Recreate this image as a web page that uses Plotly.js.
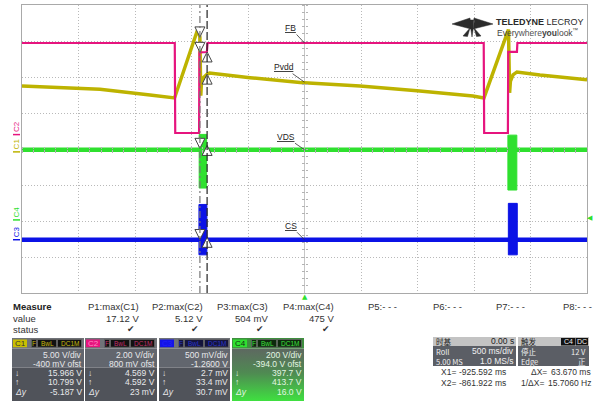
<!DOCTYPE html>
<html><head><meta charset="utf-8">
<script src="https://cdn.plot.ly/plotly-3.0.1.min.js"></script>
<style>html,body{margin:0;padding:0;background:#fff;overflow:hidden}#chart{width:594px;height:401px}</style>
</head><body><div id="chart"></div>
<script>
// ---------------- data ----------------
const channelNames = ['C1', 'C2', 'C3', 'C4'];
const traceLabels = ['Pvdd', 'FB', 'CS', 'VDS'];
const labelVolts = [9.68, 5.09, 0.0, 390];
const voltsPerDiv = [5, 2, 0.5, 200];
const offsetVolts = [-0.4, 0.8, -1.26, -394.0];
const timePerDiv = 0.5; // seconds
const cursorTimes = [-0.925592, -0.861922];
const cursorX1Vals = [15.966, 4.569, 0.0027, 397.7];
const cursorX2Vals = [10.799, 4.592, 0.0334, 413.7];
const triggerLevel = 12; // V on C4

// C1 Pvdd (s, V)
const c1Time  = [-2.5, -1.81, -1.367, -1.150, -0.943, -0.926, -0.918, -0.912, -0.895, -0.862, -0.84, -0.482, -0.04, 0.491, 0.996, 1.49, 1.588, 1.805, 1.815, 1.822, 1.845, 1.88, 2.084, 2.5];
const c1Volts = [9.15, 8.69, 7.9, 7.49, 17.1, 15.97, 7.8, 9.6, 10.3, 10.8, 10.95, 10.3, 9.64, 9.15, 8.5, 7.76, 7.49, 17.0, 8.2, 9.8, 10.7, 11.1, 10.68, 10.0];
// C2 FB
const c2Time  = [-2.5, -1.148, -1.144, -0.933, -0.930, -0.864, -0.858, 1.586, 1.590, 1.800, 1.803, 1.880, 1.884, 2.5];
const c2Volts = [5.09, 5.09, 0.09, 0.09, 4.57, 4.59, 5.09, 5.09, 0.09, 0.09, 4.60, 4.60, 5.09, 5.09];
// C3 CS
const c3Time  = [-2.5, 2.5];
const c3Volts = [0.0, 0.0];
const c3BurstStart = [-0.934, 1.804];
const c3BurstEnd   = [-0.864, 1.883];
const c3BurstMax   = [0.49, 0.505];
const c3BurstMin   = [-0.21, -0.21];
// C4 VDS
const c4Time  = [-2.5, 2.5];
const c4Volts = [390, 390];
const c4BurstStart = [-0.932, 1.800];
const c4BurstEnd   = [-0.866, 1.879];
const c4BurstMax   = [475, 471];
const c4BurstMin   = [177, 166];

// panel texts
const measureHeaders = ['P1:max(C1)', 'P2:max(C2)', 'P3:max(C3)', 'P4:max(C4)', 'P5:- - -', 'P6:- - -', 'P7:- - -', 'P8:- - -'];
const measureValues = ['17.12 V', '5.12 V', '504 mV', '475 V', '', '', '', ''];
const measureOk = [true, true, true, true, false, false, false, false];
const vdivText = ['5.00 V/div', '2.00 V/div', '500 mV/div', '200 V/div'];
const ofstText = ['-400 mV ofst', '800 mV ofst', '-1.2600 V', '-394.0 V ofst'];
const x1Text = ['15.966 V', '4.569 V', '2.7 mV', '397.7 V'];
const x2Text = ['10.799 V', '4.592 V', '33.4 mV', '413.7 V'];
const dyText = ['-5.187 V', '23 mV', '30.7 mV', '16.0 V'];
const badgeText = ['F', 'BwL', 'DC1M'];
const timebaseRows = [['时基', '0.00 s'], ['Roll', '500 ms/div'], ['5.00 MS', '1.0 MS/s']];
const triggerRows = [['触发', ''], ['停止', '12 V'], ['Edge', '正']];
const cursorRows = [['X1=', '-925.592 ms', 'ΔX=', '63.670 ms'], ['X2=', '-861.922 ms', '1/ΔX=', '15.7060 Hz']];

// ---------------- layout geometry ----------------
const W = 594, H = 401;
const gridLeft = 22, gridRight = 587, gridTop = 5, gridBottom = 293;
const xDom = [gridLeft / W, gridRight / W];
const yDom = [1 - gridBottom / H, 1 - gridTop / H];
const xMid = (xDom[0] + xDom[1]) / 2, yMid = (yDom[0] + yDom[1]) / 2;
const colors = ['#bdb300', '#e6147e', '#0b12e6', '#2fe02f'];
const dimColors = ['#c8bc10', '#c0306a', '#2a34c8', '#40e040'];
const FONT = 'Liberation Sans, Arial, sans-serif';
const CJK = 'Noto Sans CJK SC, Liberation Sans, sans-serif';
const chanAxis = ['y2', 'y3', 'y4', 'y5'];

function burstPoly(s, e, mx, mn) {
  const xs = [], ys = [];
  for (let i = 0; i < s.length; i++) {
    xs.push(s[i], e[i], e[i], s[i], s[i], null);
    ys.push(mx[i], mx[i], mn[i], mn[i], mx[i], null);
  }
  return {xs, ys};
}
const anchorTrace = (xa, ya) => ({x: [0], y: [0], xaxis: xa, yaxis: ya, mode: 'markers',
  marker: {size: 1, opacity: 0}, hoverinfo: 'skip'});

const traces = [];
// invisible anchors so that grid / tick axes exist as subplots
traces.push(anchorTrace('x', 'y'), anchorTrace('x2', 'y'), anchorTrace('x3', 'y'), anchorTrace('x', 'y6'), anchorTrace('x', 'y7'));
// gradient body of C4 box (panel subplot)
traces.push({x: [232, 304, 304, 232, 232], y: [348.5, 348.5, 401, 401, 348.5], xaxis: 'x4', yaxis: 'y8',
  mode: 'lines', line: {width: 0}, fill: 'toself', hoverinfo: 'skip',
  fillgradient: {type: 'vertical', start: 350, stop: 401,
    colorscale: [[0, '#5d6a60'], [0.45, '#4f8a52'], [1, '#3fe040']]}});
// logo icon (panel subplot)
const logoX = [452, 470, 471, 452, null, 493, 474, 473, 493, null, 469.5, 474.5, 472, 469.5, null, 470, 463, 467.5, 470, null, 474, 481, 476.5, 474];
const logoY = [24, 18, 29, 24, null, 24, 18, 29, 24, null, 20, 20, 37, 20, null, 28, 36, 36.5, 28, null, 28, 36, 36.5, 28];
traces.push({x: logoX, y: logoY, xaxis: 'x4', yaxis: 'y8', mode: 'lines', fill: 'toself',
  fillcolor: '#2b2b2b', line: {width: 0.5, color: '#2b2b2b'}, hoverinfo: 'skip'});

// C1
traces.push({x: c1Time, y: c1Volts, xaxis: 'x', yaxis: 'y2', mode: 'lines', line: {color: colors[0], width: 3.5}, hoverinfo: 'skip'});
// C2
traces.push({x: c2Time, y: c2Volts, xaxis: 'x', yaxis: 'y3', mode: 'lines', line: {color: colors[1], width: 2.2}, hoverinfo: 'skip'});
// C4
traces.push({x: c4Time, y: c4Volts, xaxis: 'x', yaxis: 'y5', mode: 'lines', line: {color: colors[3], width: 4.5}, hoverinfo: 'skip'});
const b4 = burstPoly(c4BurstStart, c4BurstEnd, c4BurstMax, c4BurstMin);
traces.push({x: b4.xs, y: b4.ys, xaxis: 'x', yaxis: 'y5', mode: 'lines', fill: 'toself', fillcolor: colors[3], line: {color: colors[3], width: 1}, hoverinfo: 'skip'});
// C3
traces.push({x: c3Time, y: c3Volts, xaxis: 'x', yaxis: 'y4', mode: 'lines', line: {color: colors[2], width: 4.5}, hoverinfo: 'skip'});
const b3 = burstPoly(c3BurstStart, c3BurstEnd, c3BurstMax, c3BurstMin);
traces.push({x: b3.xs, y: b3.ys, xaxis: 'x', yaxis: 'y4', mode: 'lines', fill: 'toself', fillcolor: colors[2], line: {color: colors[2], width: 1}, hoverinfo: 'skip'});
// cursor arrows
for (let i = 0; i < 4; i++) {
  traces.push({x: cursorTimes, y: [cursorX1Vals[i], cursorX2Vals[i]], xaxis: 'x', yaxis: chanAxis[i], mode: 'markers',
    marker: {symbol: ['arrow-down', 'arrow-up'], size: 10, color: '#ffffff', line: {color: '#444', width: 1}}, hoverinfo: 'skip', cliponaxis: false});
}

const shapes = [];
const annotations = [];
function rect(x0, y0, x1, y1, fill, lc) {
  shapes.push({type: 'rect', xref: 'x4', yref: 'y8', x0, y0, x1, y1, fillcolor: fill, layer: 'above',
    line: {width: lc ? 0.8 : 0, color: lc || fill}});
}
function txt(s, x, y, o = {}) {
  annotations.push({xref: 'x4', yref: 'y8', x, y, text: s, showarrow: false, xanchor: o.anchor || 'left', yanchor: 'middle',
    borderpad: 0, font: {family: o.family || FONT, size: o.size || 9, color: o.color || '#333'}});
}

// cursors
shapes.push({type: 'line', xref: 'x', yref: 'y domain', x0: cursorTimes[0], x1: cursorTimes[0], y0: 0, y1: 1, layer: 'above',
  line: {color: '#777', width: 1.2, dash: '7px,3px,2px,3px'}});
shapes.push({type: 'line', xref: 'x', yref: 'y domain', x0: cursorTimes[1], x1: cursorTimes[1], y0: 0, y1: 1, layer: 'above',
  line: {color: '#222', width: 1.2, dash: '8px,3px'}});

// trace labels with leader lines
const leader = [[-21, -15], [-14, -15], [-14, -14], [-19, -13]];
for (let i = 0; i < 4; i++) {
  annotations.push({xref: 'x', yref: chanAxis[i], x: 0, y: labelVolts[i], text: '<u>' + traceLabels[i] + '</u>', showarrow: true,
    arrowhead: 0, arrowwidth: 0.8, arrowcolor: '#333', ax: leader[i][0], ay: leader[i][1], standoff: 0,
    font: {family: FONT, size: 8.5, color: '#222'}});
}
// channel ground markers on left
for (let i = 0; i < 4; i++) {
  annotations.push({xref: 'x4', yref: chanAxis[i], x: 16.5, y: 0, text: channelNames[i], textangle: -90, showarrow: false,
    xanchor: 'center', yanchor: 'bottom', borderpad: 0, yshift: 1.5, font: {family: FONT, size: 8, color: colors[i]}});
  shapes.push({type: 'line', xref: 'x4', yref: chanAxis[i], x0: 13, x1: 20, y0: 0, y1: 0, line: {color: colors[i], width: 1.5}});
}
// trigger markers
annotations.push({xref: 'x4', yref: 'y5', x: 590, y: triggerLevel, text: '◀', showarrow: false, xanchor: 'center', yanchor: 'middle',
  font: {family: 'DejaVu Sans', size: 7, color: colors[3]}});
annotations.push({xref: 'x', yref: 'y8', x: 0, y: 297, text: '▲', showarrow: false, xanchor: 'center', yanchor: 'middle',
  font: {family: 'DejaVu Sans', size: 7, color: colors[3]}});

// logo text
txt('<b>TELEDYNE</b> LECROY', 495, 22, {size: 9, color: '#2a2a2a'});
txt('Every<span style="color:#555">where</span><b>you</b>look<sup>™</sup>', 496, 32, {size: 8.5, color: '#444'});

// measure table
txt('<b>Measure</b>', 12, 306, {size: 9.5, color: '#222'});
txt('value', 12, 318, {size: 9.5});
txt('status', 12, 329, {size: 9.5});
const colRight = [140, 204, 269, 335, 398, 463, 526, 593];
for (let i = 0; i < 8; i++) {
  txt(measureHeaders[i], colRight[i], 306, {anchor: 'right', size: 9.5});
  if (measureValues[i]) txt(measureValues[i], colRight[i], 318, {anchor: 'right', size: 9.5});
  if (measureOk[i]) txt('✔', colRight[i] - 4, 329, {anchor: 'right', size: 9, color: '#333', family: 'DejaVu Sans'});
}

// channel boxes
const boxLeft = [12, 85, 159, 232], boxRight = [84, 157, 230, 304];
const headerBg = ['#707378', '#707378', '#707378', '#3f8f3f'];
const badgeFill = ['#c9c000', '#e6147e', '#1414e6', '#30e030'];
const badgeTxtCol = ['#333', '#ff8cc4', '#2020ff', '#103010'];
const smallBg = ['#111', '#111', '#14143c', '#0d2a0d'];
const bodyRowY = [354.5, 363.5, 373, 382, 391.5];
for (let i = 0; i < 4; i++) {
  const L = boxLeft[i], R = boxRight[i];
  rect(L, 338, R, 348.5, headerBg[i]);
  if (i < 3) { rect(L, 348.5, R, 367.5, '#62666e'); rect(L, 367.5, R, 401, '#50535a'); }
  rect(L + 1, 339.5, L + 15, 347.2, badgeFill[i]);
  txt(channelNames[i], L + 8, 343.5, {anchor: 'center', size: 8, color: badgeTxtCol[i]});
  const bx = [[19.5, 24.5], [25.5, 44.5], [45.5, 69.5]];
  for (let k = 0; k < 3; k++) {
    rect(L + bx[k][0], 339.5, L + bx[k][1], 347.2, smallBg[i], '#666');
    txt(badgeText[k], L + (bx[k][0] + bx[k][1]) / 2, 343.5, {anchor: 'center', size: 6.5, color: dimColors[i]});
  }
  const tc = i === 3 ? '#e2f6e2' : '#e8e8ea';
  const fs = 8.5;
  txt(vdivText[i], R - 1, bodyRowY[0], {anchor: 'right', color: tc, size: fs});
  txt(ofstText[i], R - 1, bodyRowY[1], {anchor: 'right', color: tc, size: fs});
  txt('↓', L + 2, bodyRowY[2], {color: tc, size: fs});
  txt(x1Text[i], R - 1, bodyRowY[2], {anchor: 'right', color: tc, size: fs});
  txt('↑', L + 2, bodyRowY[3], {color: tc, size: fs});
  txt(x2Text[i], R - 1, bodyRowY[3], {anchor: 'right', color: tc, size: fs});
  txt('<i>Δy</i>', L + 1.5, bodyRowY[4], {color: tc, size: fs});
  txt(dyText[i], R - 1, bodyRowY[4], {anchor: 'right', color: tc, size: fs});
}

// timebase & trigger boxes
const tbL = 433, tbR = 516, trL = 518, trR = 589;
const rowY = [341.3, 351.2, 361.2];
rect(tbL, 337, tbR, 346, '#c3c3c3');
rect(tbL, 346, tbR, 366, '#5b5e65');
rect(trL, 337, trR, 346, '#c3c3c3');
rect(trL, 346, trR, 366, '#5b5e65');
for (let r = 0; r < 3; r++) {
  const c = r === 0 ? '#222' : '#f0f0f0';
  txt(timebaseRows[r][0], tbL + 1.5, rowY[r], {color: c, family: CJK, size: 7.5});
  txt(timebaseRows[r][1], tbR - 1, rowY[r], {anchor: 'right', color: c, size: 8.5});
  txt(triggerRows[r][0], trL + 2, rowY[r], {color: c, family: CJK, size: 7.5});
  if (triggerRows[r][1]) txt(triggerRows[r][1], trR - 2, rowY[r], {anchor: 'right', color: c, family: CJK, size: 7.5});
}
rect(561, 338, 575, 345.5, '#111');
rect(575.5, 338, 588, 345.5, '#111');
txt('C4', 568, 341.8, {anchor: 'center', size: 7, color: '#eee'});
txt('DC', 581.7, 341.8, {anchor: 'center', size: 7, color: '#eee'});
// cursor readouts
const curY = [371.5, 383];
for (let r = 0; r < 2; r++) {
  txt(cursorRows[r][0], 440, curY[r], {size: 8.5});
  txt(cursorRows[r][1], 507, curY[r], {anchor: 'right', size: 8.5});
  txt(cursorRows[r][2], r === 0 ? 530 : 520, curY[r], {size: 8.5});
  txt(cursorRows[r][3], 592, curY[r], {anchor: 'right', size: 8.5});
}

// ---------------- axes ----------------
const gridCol = '#b9b9b9';
const tickAx = (extra) => Object.assign({showticklabels: false, showgrid: false, zeroline: false, showline: false,
  ticks: 'outside', ticklen: 2.5, tickcolor: '#b3b3b3', tickwidth: 1, fixedrange: true}, extra);
const layout = {
  width: W, height: H, margin: {l: 0, r: 0, t: 0, b: 0, pad: 0},
  paper_bgcolor: '#ffffff', plot_bgcolor: 'rgba(0,0,0,0)', showlegend: false,
  xaxis: {domain: xDom, range: [-5 * timePerDiv, 5 * timePerDiv], dtick: timePerDiv, tick0: 0, anchor: 'y',
    showgrid: true, gridcolor: gridCol, griddash: '1px,2px', gridwidth: 1,
    zeroline: true, zerolinecolor: '#c6c6c6', zerolinewidth: 1,
    showline: true, mirror: true, linecolor: '#a9a9a9', linewidth: 1, showticklabels: false, ticks: '', fixedrange: true},
  yaxis: {domain: yDom, range: [-4, 4], dtick: 1, tick0: 0, anchor: 'x',
    showgrid: true, gridcolor: gridCol, griddash: '1px,2px', gridwidth: 1,
    zeroline: true, zerolinecolor: '#c6c6c6', zerolinewidth: 1,
    showline: true, mirror: true, linecolor: '#a9a9a9', linewidth: 1, showticklabels: false, ticks: '', fixedrange: true},
  xaxis2: tickAx({overlaying: 'x', anchor: 'free', position: yMid, side: 'bottom', range: [-5 * timePerDiv, 5 * timePerDiv], dtick: timePerDiv / 5, tick0: 0}),
  xaxis3: tickAx({overlaying: 'x', anchor: 'free', position: yMid, side: 'top', range: [-5 * timePerDiv, 5 * timePerDiv], dtick: timePerDiv / 5, tick0: 0}),
  yaxis6: tickAx({overlaying: 'y', anchor: 'free', position: xMid, side: 'left', range: [-4, 4], dtick: 0.2, tick0: 0}),
  yaxis7: tickAx({overlaying: 'y', anchor: 'free', position: xMid, side: 'right', range: [-4, 4], dtick: 0.2, tick0: 0}),
  xaxis4: {domain: [0, 1], range: [0, W], visible: false, anchor: 'y8', fixedrange: true},
  yaxis8: {domain: [0, 1], range: [H, 0], visible: false, anchor: 'x4', fixedrange: true},
  shapes, annotations
};
for (let i = 0; i < 4; i++) {
  const center = -offsetVolts[i];
  layout['yaxis' + (i + 2)] = {overlaying: 'y', anchor: 'x', visible: false, fixedrange: true, domain: yDom,
    range: [center - 4 * voltsPerDiv[i], center + 4 * voltsPerDiv[i]]};
}

Plotly.newPlot('chart', traces, layout, {staticPlot: true, displayModeBar: false});
</script>
</body></html>
